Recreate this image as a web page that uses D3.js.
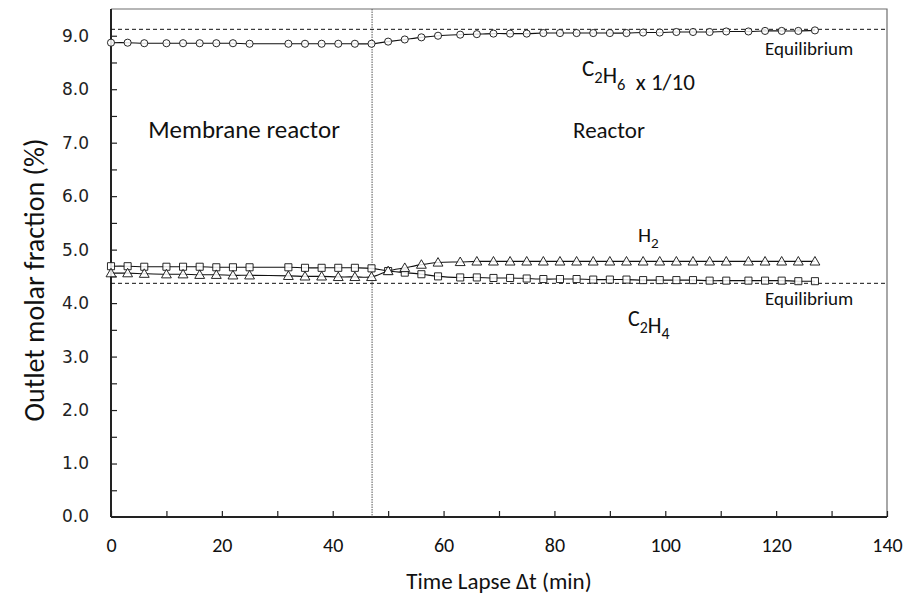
<!DOCTYPE html>
<html>
<head>
<meta charset="utf-8">
<script src="https://cdn.jsdelivr.net/npm/d3@7"></script>
<style>
  html, body { margin: 0; padding: 0; background: #fff; }
  svg { display: block; }
  .lbl { font-family: Carlito, Lato, "Open Sans", sans-serif; fill: #111; }
</style>
</head>
<body>
<svg id="chart" width="909" height="603"></svg>
<script>
// Sampling times (min)
const times = [0, 3, 6, 10, 13, 16, 19, 22, 25, 32, 35, 38, 41, 44, 47, 50, 53, 56, 59, 63, 66, 69,
  72, 75, 78, 81, 84, 87, 90, 93, 96, 99, 102, 105, 108, 111, 115, 118, 121, 124, 127];

// Outlet molar fractions (%) — C2H6 shown scaled by 1/10
const c2h6 = [8.87, 8.87, 8.86, 8.86, 8.86, 8.86, 8.86, 8.86, 8.85, 8.85, 8.85, 8.85, 8.85, 8.85, 8.85,
  8.89, 8.93, 8.97, 9.00, 9.02, 9.03, 9.04, 9.04, 9.04, 9.05, 9.05, 9.05, 9.05, 9.05, 9.05, 9.06,
  9.06, 9.07, 9.07, 9.07, 9.08, 9.08, 9.09, 9.09, 9.09, 9.10];
const h2 = [4.56, 4.56, 4.55, 4.54, 4.54, 4.53, 4.53, 4.52, 4.52, 4.51, 4.50, 4.50, 4.49, 4.49, 4.49,
  4.60, 4.66, 4.72, 4.76, 4.77, 4.78, 4.78, 4.78, 4.78, 4.78, 4.78, 4.78, 4.78, 4.78, 4.78, 4.78,
  4.78, 4.78, 4.78, 4.78, 4.78, 4.78, 4.78, 4.78, 4.78, 4.78];
const c2h4 = [4.69, 4.69, 4.68, 4.68, 4.68, 4.68, 4.67, 4.67, 4.67, 4.67, 4.66, 4.66, 4.66, 4.66, 4.65,
  4.60, 4.57, 4.54, 4.50, 4.48, 4.48, 4.47, 4.47, 4.46, 4.45, 4.45, 4.45, 4.44, 4.44, 4.44, 4.43,
  4.43, 4.43, 4.43, 4.42, 4.42, 4.42, 4.42, 4.42, 4.41, 4.41];

// Equilibrium levels and the switch from membrane reactor to reactor
const eqC2H6 = 9.12;
const eqC2H4 = 4.37;
const switchTime = 47.1;

const xTicks = [0, 10, 20, 30, 40, 50, 60, 70, 80, 90, 100, 110, 120, 130, 140];
const yTicks = [0.5, 1, 1.5, 2, 2.5, 3, 3.5, 4, 4.5, 5, 5.5, 6, 6.5, 7, 7.5, 8, 8.5, 9];

const svg = d3.select("#chart");
const pLeft = 111, pRight = 887, pTop = 9, pBottom = 517;
const x = d3.scaleLinear().domain([0, 140]).range([pLeft, pRight]);
const y = d3.scaleLinear().domain([0, 9.5]).range([pBottom, pTop]);

// Frame (top and right edges)
svg.append("path")
  .attr("d", `M${pLeft},${pTop}H${pRight}V${pBottom}`)
  .attr("fill", "none").attr("stroke", "#6e6e6e").attr("stroke-width", 1.2);

// Y axis
const yAxis = svg.append("g").attr("transform", `translate(${pLeft},0)`)
  .call(d3.axisLeft(y).tickValues(yTicks).tickSize(-6).tickPadding(22)
    .tickFormat(d => Number.isInteger(d) ? d3.format(".1f")(d) : ""));
yAxis.select(".domain").remove();
yAxis.selectAll(".tick line").attr("stroke", "#222").attr("stroke-width", 1.2);
yAxis.selectAll(".tick text").attr("font-family", "'DejaVu Sans', Verdana, sans-serif")
  .attr("font-size", 17).attr("fill", "#222");
yAxis.append("text").attr("x", -22).attr("y", y(0)).attr("dy", "0.32em")
  .attr("text-anchor", "end").attr("font-family", "'DejaVu Sans', Verdana, sans-serif")
  .attr("font-size", 17).attr("fill", "#222").text("0.0");

// X axis
const xAxis = svg.append("g").attr("transform", `translate(0,${pBottom})`)
  .call(d3.axisBottom(x).tickValues(xTicks).tickSize(-6).tickPadding(21)
    .tickFormat(d => d % 20 === 0 ? d : ""));
xAxis.select(".domain").remove();
xAxis.selectAll(".tick line").attr("stroke", "#222").attr("stroke-width", 1.2);
xAxis.selectAll(".tick text").attr("class", "lbl").attr("font-size", 20);

// Axis lines
svg.append("line").attr("x1", pLeft).attr("x2", pLeft).attr("y1", pTop).attr("y2", pBottom)
  .attr("stroke", "#222").attr("stroke-width", 2);
svg.append("line").attr("x1", pLeft).attr("x2", pRight).attr("y1", pBottom).attr("y2", pBottom)
  .attr("stroke", "#222").attr("stroke-width", 2);

// Switch line
svg.append("line").attr("x1", x(switchTime)).attr("x2", x(switchTime))
  .attr("y1", pTop).attr("y2", pBottom)
  .attr("stroke", "#555").attr("stroke-width", 1).attr("stroke-dasharray", "1.5,1");

// Equilibrium lines
[eqC2H6, eqC2H4].forEach(v => {
  svg.append("line").attr("x1", pLeft).attr("x2", pRight).attr("y1", y(v)).attr("y2", y(v))
    .attr("stroke", "#111").attr("stroke-width", 1).attr("stroke-dasharray", "4,3");
});

// Series curves and markers
const line = d3.line().curve(d3.curveCatmullRom.alpha(0.5));
const series = [
  { vals: c2h6, sym: d3.symbolCircle, size: 40 },
  { vals: c2h4, sym: d3.symbolSquare, size: 50 },
  { vals: h2, sym: d3.symbolTriangle, size: 42 }
];
series.forEach(s => {
  const pts = times.map((t, i) => [x(t), y(s.vals[i])]);
  svg.append("path").attr("d", line(pts)).attr("fill", "none")
    .attr("stroke", "#111").attr("stroke-width", 1.1);
});
series.forEach(s => {
  const sym = d3.symbol().type(s.sym).size(s.size);
  svg.append("g").selectAll("path").data(times).join("path")
    .attr("transform", (t, i) => `translate(${x(t)},${y(s.vals[i]) + (s.sym === d3.symbolTriangle ? 0.8 : 0)})`)
    .attr("d", sym).attr("fill", "#fff").attr("fill-opacity", 0.85)
    .attr("stroke", "#111").attr("stroke-width", 0.9);
});

// Annotations
function label(txt, xp, yp, size, anchor) {
  return svg.append("text").attr("class", "lbl").attr("x", xp).attr("y", yp)
    .attr("font-size", size).attr("text-anchor", anchor || "start").text(txt);
}
label("Membrane reactor", 244, 138, 25, "middle");
label("Reactor", 609, 138, 23, "middle");
label("Equilibrium", 765, 55, 19);
label("Equilibrium", 765, 305, 19);

// Chemical formulas with subscripts
function formula(parts, xp, yp, size) {
  const t = svg.append("text").attr("class", "lbl").attr("x", xp).attr("y", yp).attr("font-size", size);
  parts.forEach(p => {
    if (p.sub) {
      t.append("tspan").attr("dy", size * 0.3).attr("font-size", size * 0.72).text(p.sub);
      t.append("tspan").attr("dy", -size * 0.3).text("");
    } else {
      t.append("tspan").text(p.t);
    }
  });
  return t;
}
formula([{ t: "C" }, { sub: "2" }, { t: "H" }, { sub: "6" }, { t: "\u00a0 x 1/10" }], 582, 76, 23);
formula([{ t: "H" }, { sub: "2" }], 638, 242, 21);
formula([{ t: "C" }, { sub: "2" }, { t: "H" }, { sub: "4" }], 628, 326, 22);

// Axis titles
label("Time Lapse \u0394t (min)", 499, 589, 23, "middle");
svg.append("text").attr("class", "lbl").attr("font-size", 28).attr("text-anchor", "middle")
  .attr("transform", `translate(44,280) rotate(-90)`)
  .text("Outlet molar fraction (%)");
</script>
</body>
</html>
